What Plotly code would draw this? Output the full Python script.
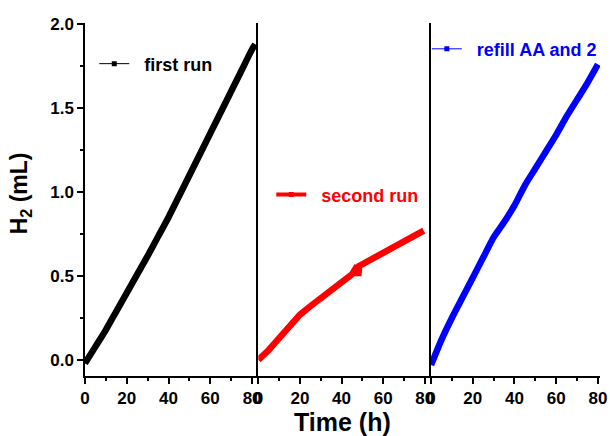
import plotly.graph_objects as go

# ---- data ----
time_first = [0, 5, 10, 15, 20, 25, 30, 35, 40, 45, 50, 55, 60, 65, 70, 75, 80, 81.5]
h2_first = [-0.02, 0.08, 0.18, 0.29, 0.40, 0.51, 0.62, 0.735, 0.85, 0.975, 1.10, 1.225, 1.35, 1.475, 1.60, 1.725, 1.85, 1.88]

time_second = [0, 2, 5, 10, 15, 20, 25, 30, 35, 40, 45, 47.5, 48, 48.5, 50, 55, 60, 65, 70, 75, 79.5]
h2_second = [0.0, 0.02, 0.06, 0.13, 0.20, 0.27, 0.32, 0.37, 0.42, 0.47, 0.51, 0.56, 0.50, 0.56, 0.57, 0.61, 0.64, 0.68, 0.71, 0.74, 0.77]

time_third = [0, 5, 10, 15, 20, 25, 30, 35, 40, 45, 50, 55, 60, 65, 70, 75, 80]
h2_third = [-0.03, 0.12, 0.25, 0.37, 0.49, 0.61, 0.73, 0.82, 0.92, 1.04, 1.14, 1.24, 1.34, 1.45, 1.55, 1.65, 1.76]

names = ["first run", "second run", "refill AA and 2"]
colors = ["#000000", "#ff0000", "#0000ff"]
x_ticks = [0, 20, 40, 60, 80]
y_ticks = [0.0, 0.5, 1.0, 1.5, 2.0]
y_tick_text = ["0.0", "0.5", "1.0", "1.5", "2.0"]

FONT = "Arial, Liberation Sans, sans-serif"
TICKFONT = dict(family=FONT, size=17, color="black", weight="bold")
NBSP = "\u00a0\u00a0"

fig = go.Figure()
series = [(time_first, h2_first), (time_second, h2_second), (time_third, h2_third)]
axes = [("x", "y"), ("x2", "y2"), ("x3", "y3")]
legends = ["legend", "legend2", "legend3"]
leg_width = [1, 4, 1]
shapes = ["spline", "linear", "spline"]

for i, ((xs, ys), (xa, ya)) in enumerate(zip(series, axes)):
    fig.add_trace(go.Scatter(x=xs, y=ys, mode="lines", xaxis=xa, yaxis=ya,
                             line=dict(color=colors[i], width=6.5, shape=shapes[i], smoothing=0.6),
                             showlegend=False))
    # legend entry
    fig.add_trace(go.Scatter(x=[None], y=[None], mode="lines+markers", xaxis=xa, yaxis=ya,
                             name=NBSP + names[i], legend=legends[i],
                             line=dict(color=colors[i], width=leg_width[i]),
                             marker=dict(symbol="square", size=5, color=colors[i])))

W = 516.0
d1 = 173.7 / W
d2 = (173.7 + 173.0) / W


def xax(domain, rng, anchor):
    return dict(domain=domain, range=rng, anchor=anchor, automargin=False,
                showline=True, linecolor="black", linewidth=1.5, ticks="outside",
                ticklen=6, tickwidth=1.5, tickcolor="black", showgrid=False, zeroline=False,
                tickvals=x_ticks, tickfont=TICKFONT,
                minor=dict(dtick=10, tick0=0, ticks="outside", ticklen=3, tickwidth=1.5, tickcolor="black"))


yr = [-0.095, 2.006]

fig.update_layout(
    width=610, height=436,
    margin=dict(l=85, r=9, t=23, b=60),
    paper_bgcolor="white", plot_bgcolor="white",
    xaxis=xax([0, d1], [0, 83], "y"),
    xaxis2=xax([d1, d2], [0, 83], "y2"),
    xaxis3=xax([d2, 1], [0, 81], "y3"),
    yaxis=dict(domain=[0, 1], range=yr, anchor="x", automargin=False,
               showline=True, linecolor="black", linewidth=1.5,
               ticks="outside", ticklen=6, tickwidth=1.5, tickcolor="black", showgrid=False, zeroline=False,
               tickvals=y_ticks, ticktext=y_tick_text, tickfont=TICKFONT,
               minor=dict(dtick=0.25, tick0=0, ticks="outside", ticklen=3, tickwidth=1.5, tickcolor="black")),
    yaxis2=dict(domain=[0, 1], range=yr, anchor="x2", automargin=False,
                showline=True, linecolor="black", linewidth=1.5,
                showticklabels=False, ticks="", showgrid=False, zeroline=False),
    yaxis3=dict(domain=[0, 1], range=yr, anchor="x3", automargin=False,
                showline=True, linecolor="black", linewidth=1.5,
                showticklabels=False, ticks="", showgrid=False, zeroline=False),
    legend=dict(x=0.018, y=0.884, xanchor="left", yanchor="middle", bgcolor="rgba(0,0,0,0)",
                font=dict(family=FONT, size=18, color=colors[0], weight="bold")),
    legend2=dict(x=0.361, y=0.513, xanchor="left", yanchor="middle", bgcolor="rgba(0,0,0,0)",
                 font=dict(family=FONT, size=18, color=colors[1], weight="bold")),
    legend3=dict(x=0.6625, y=0.926, xanchor="left", yanchor="middle", bgcolor="rgba(0,0,0,0)",
                 font=dict(family=FONT, size=18, color=colors[2], weight="bold")),
)

fig.add_annotation(text="Time (h)", xref="paper", yref="paper", x=0.5, y=-0.085, yanchor="top",
                   showarrow=False, font=dict(family=FONT, size=25, color="black", weight="bold"))
fig.add_annotation(text="H<sub>2</sub> (mL)", xref="paper", yref="paper", x=-0.126, y=0.518,
                   xanchor="center", yanchor="middle", textangle=-90, showarrow=False,
                   font=dict(family=FONT, size=23, color="black", weight="bold"))

fig.write_html("out.html", config={"displayModeBar": False},
               post_script="document.body.style.margin='0';")
